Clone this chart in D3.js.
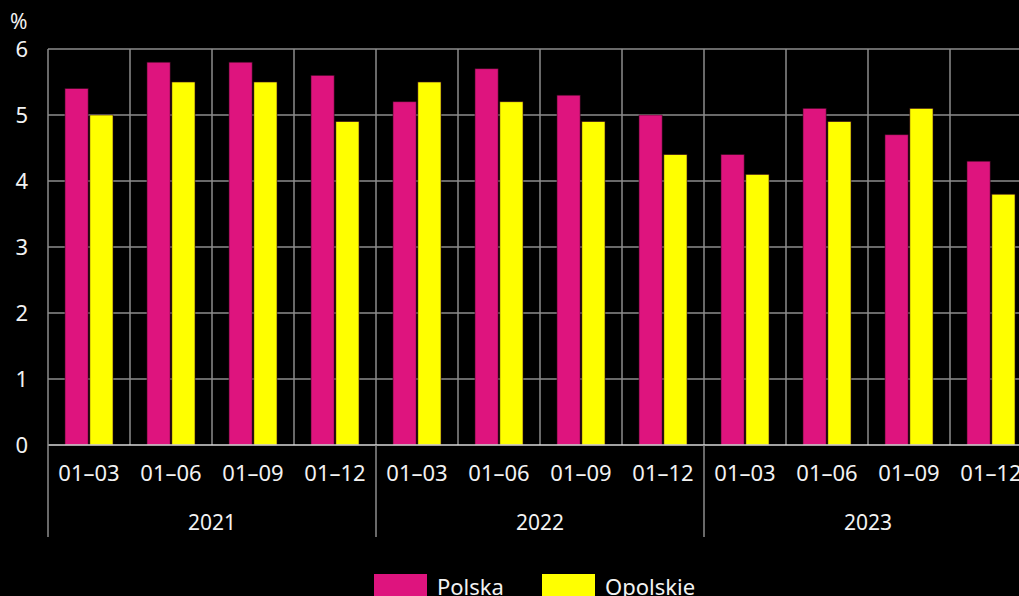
<!DOCTYPE html>
<html>
<head>
<meta charset="utf-8">
<script src="https://cdn.jsdelivr.net/npm/d3@7"></script>
<style>
body{margin:0;background:#000;overflow:hidden}
svg{display:block;background:#000;font-family:"Noto Sans",sans-serif}
.tick text{fill:#f2f2f2}
</style>
</head>
<body>
<svg id="chart"></svg>
<script>
var years = ["2021","2022","2023"]
var periods = ["01–03","01–06","01–09","01–12"]
var polska = [5.4,5.8,5.8,5.6, 5.2,5.7,5.3,5.0, 4.4,5.1,4.7,4.3]
var opolskie = [5.0,5.5,5.5,4.9, 5.5,5.2,4.9,4.4, 4.1,4.9,5.1,3.8]
var yTicks = [0,1,2,3,4,5,6]
var seriesNames = ["Polska","Opolskie"]
var colors = ["#de147e","#ffff00"]

var screen = {width:1019,height:596}
var margins = {left:48,top:49}
var graph = {width:984,height:396}

var svg = d3.select("#chart")
    .attr("width",screen.width)
    .attr("height",screen.height)

// one entry per bar slot
var slots = []
years.forEach(function(y,i){
    periods.forEach(function(p,j){
        slots.push({key:y+"|"+p,year:y,period:p,idx:i*4+j})
    })
})

var xScale = d3.scaleBand()
    .domain(slots.map(function(s){return s.key}))
    .range([0,graph.width])
var inner = d3.scaleBand()
    .domain(seriesNames)
    .range([17,xScale.bandwidth()-17])
    .paddingInner(0.07)
var yScale = d3.scaleLinear()
    .domain([0,6])
    .range([graph.height,0])

var target = svg.append("g")
    .attr("transform","translate("+margins.left+","+margins.top+")")

// horizontal grid
target.append("g")
    .selectAll("line")
    .data(yTicks.filter(function(t){return t>0}))
    .enter()
    .append("line")
    .attr("x1",0).attr("x2",graph.width)
    .attr("y1",function(t){return yScale(t)})
    .attr("y2",function(t){return yScale(t)})
    .attr("stroke","#8c8c8c").attr("stroke-width",1.5)

// vertical grid at category boundaries
target.append("g")
    .selectAll("line")
    .data(slots)
    .enter()
    .append("line")
    .attr("x1",function(s){return xScale(s.key)+xScale.bandwidth()})
    .attr("x2",function(s){return xScale(s.key)+xScale.bandwidth()})
    .attr("y1",0).attr("y2",graph.height)
    .attr("stroke","#8c8c8c").attr("stroke-width",1.5)

// bars
var series = [polska,opolskie]
series.forEach(function(vals,si){
    target.append("g")
        .selectAll("rect")
        .data(slots)
        .enter()
        .append("rect")
        .attr("x",function(s){return xScale(s.key)+inner(seriesNames[si])})
        .attr("width",inner.bandwidth())
        .attr("y",function(s){return yScale(vals[s.idx])})
        .attr("height",function(s){return graph.height-yScale(vals[s.idx])})
        .attr("fill",colors[si])
        .attr("stroke","#3a0a20").attr("stroke-width",0.6)
})

// baseline
target.append("line")
    .attr("x1",0).attr("x2",graph.width)
    .attr("y1",graph.height).attr("y2",graph.height)
    .attr("stroke","#d9d9d9").attr("stroke-width",1.5)

// left axis line extending through category labels
target.append("line")
    .attr("x1",0).attr("x2",0)
    .attr("y1",0).attr("y2",graph.height+92)
    .attr("stroke","#8c8c8c").attr("stroke-width",1.5)

// year separators
target.append("g")
    .selectAll("line")
    .data(years)
    .enter()
    .append("line")
    .attr("x1",function(y){return xScale(y+"|"+periods[3])+xScale.bandwidth()})
    .attr("x2",function(y){return xScale(y+"|"+periods[3])+xScale.bandwidth()})
    .attr("y1",graph.height).attr("y2",graph.height+92)
    .attr("stroke","#8c8c8c").attr("stroke-width",1.5)

// y labels
var yAxis = d3.axisLeft(yScale).tickValues(yTicks).tickFormat(d3.format("d"))
    .tickSize(0).tickPadding(0)
svg.append("g")
    .attr("transform","translate(28,"+margins.top+")")
    .call(yAxis)
    .call(function(g){g.select(".domain").remove()})
    .selectAll("text")
    .attr("font-size",22)
    .attr("font-family","Noto Sans")

svg.append("text")
    .text("%")
    .attr("x",10).attr("y",29)
    .attr("fill","#f2f2f2")
    .attr("font-size",21)

// period labels
var xAxis = d3.axisBottom(xScale).tickSize(0).tickPadding(20)
    .tickFormat(function(k){return k.split("|")[1]})
svg.append("g")
    .attr("transform","translate("+margins.left+","+(margins.top+graph.height)+")")
    .call(xAxis)
    .call(function(g){g.select(".domain").remove()})
    .selectAll("text")
    .attr("font-size",22)
    .attr("font-family","Noto Sans")

// year labels
target.append("g")
    .selectAll("text")
    .data(years)
    .enter()
    .append("text")
    .text(function(y){return y})
    .attr("x",function(y){
        var a = xScale(y+"|"+periods[0])
        var b = xScale(y+"|"+periods[3])+xScale.bandwidth()
        return (a+b)/2
    })
    .attr("y",graph.height+85)
    .attr("text-anchor","middle")
    .attr("fill","#f2f2f2")
    .attr("font-size",21)

// legend
var legend = svg.append("g")
    .attr("transform","translate(374,574)")
var entries = legend.selectAll("g")
    .data(seriesNames)
    .enter()
    .append("g")
    .attr("transform",function(d,i){return "translate("+(i*168)+",0)"})
entries.append("rect")
    .attr("width",53).attr("height",30)
    .attr("fill",function(d,i){return colors[i]})
entries.append("text")
    .text(function(d){return d})
    .attr("x",63).attr("y",21)
    .attr("fill","#f2f2f2")
    .attr("font-size",22)
</script>
</body>
</html>
